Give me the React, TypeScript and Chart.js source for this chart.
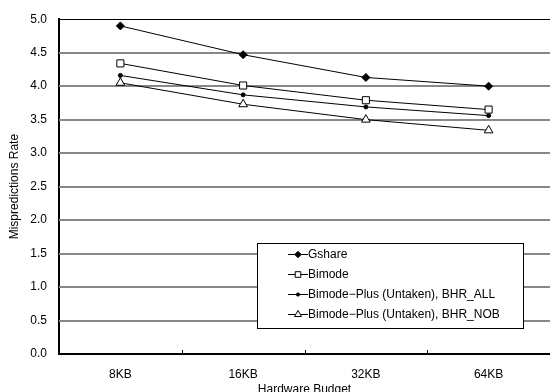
import React, { useEffect, useRef } from "react";
import { Chart, registerables } from "chart.js";

Chart.register(...registerables);

const categories = ["8KB", "16KB", "32KB", "64KB"];
const gshare = [4.9, 4.47, 4.13, 4.0];
const bimode = [4.34, 4.01, 3.79, 3.65];
const bhrAll = [4.16, 3.87, 3.69, 3.56];
const bhrNob = [4.05, 3.73, 3.5, 3.34];
const seriesLabels = [
  "Gshare",
  "Bimode",
  "Bimode\u2212Plus (Untaken), BHR_ALL",
  "Bimode\u2212Plus (Untaken), BHR_NOB",
];

const FONT = "'Liberation Sans', Arial, sans-serif";

function drawMarker(ctx: any, style: string, r: number, x: number, y: number, fill: string) {
  ctx.save();
  ctx.fillStyle = fill;
  ctx.strokeStyle = "#000";
  ctx.lineWidth = 1;
  ctx.beginPath();
  if (style === "rectRot") {
    ctx.moveTo(x, y - r);
    ctx.lineTo(x + r, y);
    ctx.lineTo(x, y + r);
    ctx.lineTo(x - r, y);
    ctx.closePath();
  } else if (style === "rect") {
    ctx.rect(x - r * 0.7, y - r * 0.7, r * 1.4, r * 1.4);
  } else if (style === "triangle") {
    ctx.moveTo(x, y - r);
    ctx.lineTo(x + r * 0.87, y + r * 0.5);
    ctx.lineTo(x - r * 0.87, y + r * 0.5);
    ctx.closePath();
  } else {
    ctx.arc(x, y, r, 0, Math.PI * 2);
  }
  ctx.fill();
  ctx.stroke();
  ctx.restore();
}

const gridPlugin = {
  id: "manualGrid",
  beforeDatasetsDraw(chart: any) {
    const ctx = chart.ctx;
    const area = chart.chartArea;
    const ys = chart.scales.y;
    ctx.save();
    ys.ticks.forEach((t: any) => {
      if (t.value === 0) return;
      const py = Math.round(ys.getPixelForValue(t.value));
      ctx.beginPath();
      if (t.value === 5) {
        ctx.strokeStyle = "#000";
        ctx.lineWidth = 1;
        ctx.moveTo(area.left, py + 0.5);
        ctx.lineTo(area.right, py + 0.5);
      } else {
        ctx.strokeStyle = "#888888";
        ctx.lineWidth = 2;
        ctx.moveTo(area.left, py);
        ctx.lineTo(area.right, py);
      }
      ctx.stroke();
    });
    const xs = chart.scales.x;
    ctx.strokeStyle = "#000";
    ctx.lineWidth = 1;
    for (let i = 0; i < categories.length - 1; i++) {
      const p = (xs.getPixelForValue(i) + xs.getPixelForValue(i + 1)) / 2;
      ctx.beginPath();
      ctx.moveTo(Math.round(p) + 0.5, area.bottom);
      ctx.lineTo(Math.round(p) + 0.5, area.bottom - 4);
      ctx.stroke();
    }
    ctx.restore();
  },
};

const legendPlugin = {
  id: "boxLegend",
  afterDraw(chart: any) {
    const ctx = chart.ctx;
    ctx.save();
    const x0 = 257, y0 = 243, w = 266, h = 85;
    ctx.fillStyle = "#fff";
    ctx.fillRect(x0, y0, w, h);
    ctx.strokeStyle = "#000";
    ctx.lineWidth = 1;
    ctx.strokeRect(x0 + 0.5, y0 + 0.5, w, h);
    chart.data.datasets.forEach((ds: any, i: number) => {
      const y = 254 + i * 20;
      ctx.strokeStyle = "#000";
      ctx.lineWidth = 1;
      ctx.beginPath();
      ctx.moveTo(288, y + 0.5);
      ctx.lineTo(308, y + 0.5);
      ctx.stroke();
      drawMarker(ctx, ds.pointStyle, ds.pointRadius * 0.8, 298, y + 0.5, ds.pointBackgroundColor);
      ctx.fillStyle = "#000";
      ctx.font = "12px " + FONT;
      ctx.textBaseline = "middle";
      ctx.textAlign = "left";
      ctx.fillText(ds.label, 308, y + 1);
    });
    ctx.restore();
  },
};

export default function App() {
  const ref = useRef<HTMLCanvasElement>(null);
  useEffect(() => {
    document.body.style.margin = "0";
    const mk = (label: string, data: number[], style: string, r: number, fill: string) => ({
      label,
      data,
      borderColor: "#000",
      borderWidth: 1,
      pointStyle: style,
      pointRadius: r,
      pointBackgroundColor: fill,
      pointBorderColor: "#000",
      pointBorderWidth: 1,
      tension: 0,
      fill: false,
      clip: false,
    });
    const chart = new Chart(ref.current!, {
      type: "line",
      data: {
        labels: categories,
        datasets: [
          mk(seriesLabels[0], gshare, "rectRot", 4, "#000"),
          mk(seriesLabels[1], bimode, "rect", 5, "#fff"),
          mk(seriesLabels[2], bhrAll, "circle", 2, "#000"),
          mk(seriesLabels[3], bhrNob, "triangle", 5, "#fff"),
        ],
      },
      options: {
        animation: false,
        responsive: false,
        maintainAspectRatio: false,
        layout: { autoPadding: false, padding: { top: 9, right: 0, left: 7, bottom: 0 } },
        plugins: { legend: { display: false }, tooltip: { enabled: false } },
        scales: {
          x: {
            offset: true,
            grid: { display: false, offset: true, drawTicks: false },
            border: { display: true, color: "#000", width: 2 },
            ticks: { color: "#000", font: { family: FONT, size: 12 }, padding: 13 },
            title: {
              display: true,
              text: "Hardware Budget",
              color: "#000",
              font: { family: FONT, size: 12 },
              padding: { top: 0, bottom: -5 },
            },
            afterFit(s: any) {
              s.height = 38;
            },
          },
          y: {
            min: 0,
            max: 5,
            ticks: {
              stepSize: 0.5,
              color: "#000",
              font: { family: FONT, size: 12 },
              padding: 12,
              callback: (v: any) => Number(v).toFixed(1),
            },
            grid: { display: false, drawTicks: false },
            border: { display: true, color: "#000", width: 2 },
            title: {
              display: true,
              text: "Mispredictions Rate",
              color: "#000",
              font: { family: FONT, size: 12 },
              padding: { top: 0, bottom: 4 },
            },
            afterFit(s: any) {
              s.width = 52;
            },
          },
        },
      },
      plugins: [gridPlugin, legendPlugin],
    } as any);
    return () => chart.destroy();
  }, []);
  return (
    <div style={{ width: 550, height: 392 }}>
      <canvas ref={ref} width={550} height={392} style={{ display: "block" }} />
    </div>
  );
}
